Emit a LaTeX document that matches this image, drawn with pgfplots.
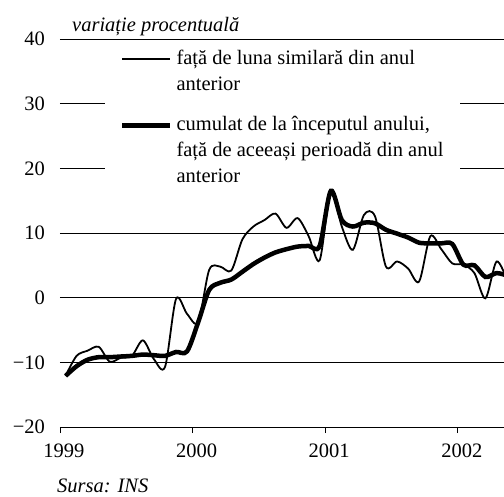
\documentclass[border=0pt]{standalone}
\usepackage{fontspec}
\setmainfont{Liberation Serif}
\usepackage{pgfplots}
\pgfplotsset{compat=1.18}

% monthly series, x = year + (month-0.5)/12
\pgfplotstableread{
x        lunar  cumulat
1999.042 -12.1  -12.1
1999.125  -9.0  -10.6
1999.208  -8.2   -9.6
1999.292  -7.6   -9.2
1999.375  -9.9   -9.2
1999.458  -9.3   -9.1
1999.542  -9.0   -9.0
1999.625  -6.6   -8.8
1999.708  -9.5   -8.9
1999.792 -10.7   -9.0
1999.875  -0.2   -8.4
1999.958  -2.5   -8.3
2000.042  -3.8   -3.8
2000.125   4.3    1.2
2000.208   4.8    2.3
2000.292   4.2    2.8
2000.375   9.0    4.0
2000.458  11.0    5.2
2000.542  12.0    6.2
2000.625  13.0    7.0
2000.708  10.8    7.5
2000.792  12.3    7.9
2000.875   9.5    8.0
2000.958   5.8    8.0
2001.042  16.5   16.5
2001.125  11.0   12.0
2001.208   7.4   11.0
2001.292  12.8   11.6
2001.375  12.6   11.5
2001.458   4.8   10.5
2001.542   5.6    9.9
2001.625   4.5    9.3
2001.708   2.5    8.5
2001.792   9.5    8.4
2001.875   7.5    8.4
2001.958   5.3    8.3
2002.042   5.1    5.1
2002.125   3.8    5.0
2002.208  -0.1    3.2
2002.292   5.6    3.8
2002.375   2.5    3.4
}\datatable

\tikzset{lg/.style={text height=15pt, text depth=5pt, inner ysep=0pt}}

\begin{document}
\fontsize{20.5}{27}\selectfont
\begin{tikzpicture}
\path[use as bounding box] (0pt,0pt) rectangle (504pt,496pt);
\begin{axis}[
  at={(60pt,69pt)}, anchor=south west,
  scale only axis, width=444pt, height=388pt,
  xmin=1999, xmax=2002.348, ymin=-20, ymax=40,
  axis line style={draw=none},
  xtick={1999,2000,2001,2002},
  xticklabels={1999,2000,2001,2002},
  xtick pos=bottom,
  tick align=outside,
  major tick length=6pt,
  x tick style={black, line width=0.8pt},
  y tick style={draw=none},
  ytick={-10,10,20,30,40},
  yticklabels={−10,10,20,30,40},
  extra y ticks={-20,0},
  extra y tick labels={−20,0},
  ymajorgrids,
  major grid style={black, line width=1pt},
  extra y tick style={grid style={gray, line width=1.6pt}},
  yticklabel style={xshift=-2pt},
  xticklabel style={xshift=4pt, yshift=-4pt},
  legend image code/.code={\draw[#1] (0pt,0pt) -- (48pt,0pt);},
  legend cell align=left,
  legend style={at={(rel axis cs:0.101,0.974)}, anchor=north west,
    fill=white, draw=none, inner xsep=15pt, inner ysep=0pt,
    column sep=2pt, row sep=6pt},
]
\addlegendimage{black, line width=1.8pt}
\addlegendentry[lg]{față de luna similară din anul}
\addlegendimage{empty legend}
\addlegendentry[lg]{anterior}
\addlegendimage{empty legend}
\addlegendentry[text height=8pt, text depth=0pt, inner ysep=0pt]{}
\addlegendimage{black, line width=4.5pt}
\addlegendentry[lg]{cumulat de la începutul anului,}
\addlegendimage{empty legend}
\addlegendentry[lg]{față de aceeași perioadă din anul}
\addlegendimage{empty legend}
\addlegendentry[lg, text depth=3pt]{anterior}

\addplot[forget plot, smooth, black, line width=1.8pt] table[x=x, y=lunar] {\datatable};
\addplot[forget plot, smooth, black, line width=4.5pt] table[x=x, y=cumulat] {\datatable};
\end{axis}
\node[anchor=base west, inner sep=0pt, font=\itshape] at (72pt,464pt) {variație procentuală};
\node[anchor=base west, inner sep=0pt, font=\itshape] at (57pt,3pt) {Sursa: INS};
\end{tikzpicture}
\end{document}
